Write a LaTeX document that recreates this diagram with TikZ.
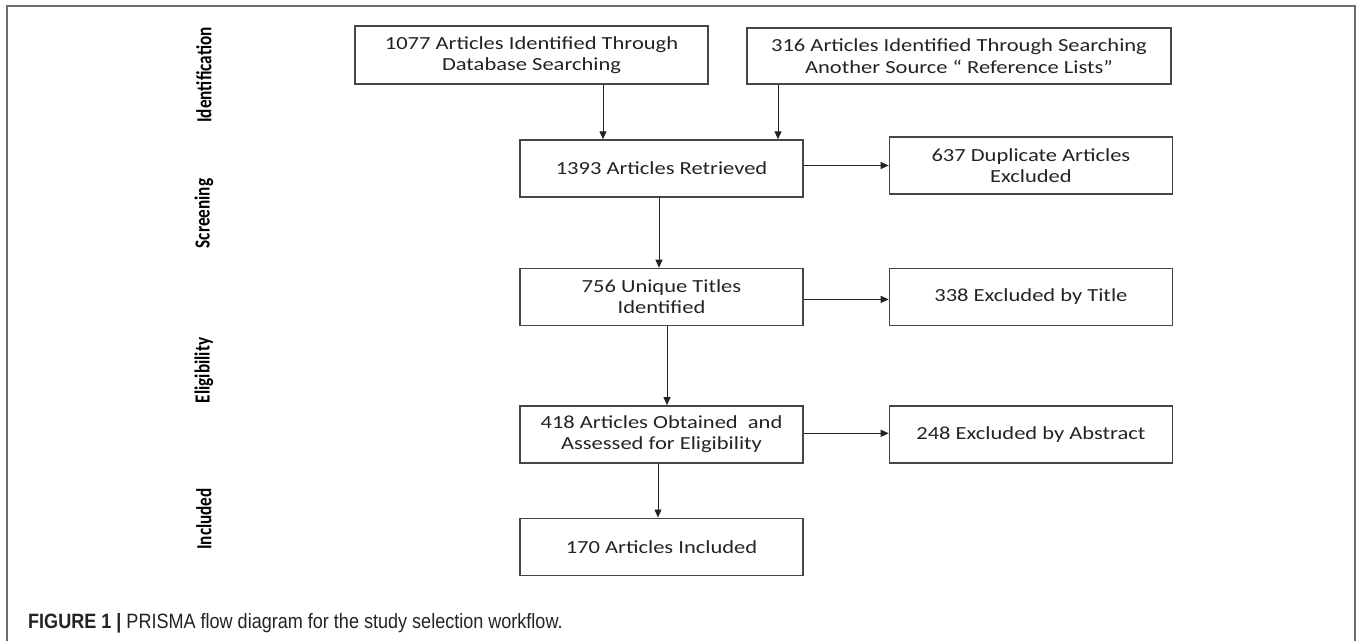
\documentclass[tikz,border=0pt]{standalone}
\usepackage{fontspec}
\setmainfont{Carlito}
\newfontfamily\boxfont[FakeStretch=1.22]{Carlito}
\newfontfamily\capfont[FakeStretch=0.87]{Liberation Sans}
\usetikzlibrary{arrows.meta,positioning,calc}
\definecolor{boxgray}{RGB}{70,70,70}
\definecolor{framegray}{RGB}{110,110,110}
\definecolor{textdark}{RGB}{35,35,35}

\begin{document}
\begin{tikzpicture}[
    box/.style={draw=boxgray, line width=0.8pt, rectangle, minimum width=5.66cm, minimum height=1.14cm, align=center, text=textdark, font={\boxfont\fontsize{10.5}{12.2}\selectfont}},
    stage/.style={xscale=1.25, rotate=90, text=black, font={\bfseries\fontsize{9.8}{11}\selectfont}},
    flow/.style={draw=textdark, line width=0.55pt, -{Triangle[length=1.6mm,width=1.4mm]}}
]
    \useasboundingbox (0,0) rectangle (27.16,-12.82);
    % outer frame
    \draw[framegray, line width=0.6pt] (0.14,-12.82) -- (0.14,-0.12) -- (27.10,-0.12) -- (27.10,-12.82);

    % stage labels
    \node[stage] (lblident) at (4.08,-1.50) {Identification};
    \node[stage] (lblscreen) at (4.08,-4.27) {Screening};
    \node[stage] (lblelig) at (4.08,-7.41) {Eligibility};
    \node[stage] (lblincl) at (4.08,-10.38) {Included};

    % source boxes
    \node[box, minimum width=7.06cm, minimum height=1.16cm] (dbsearch) at (10.63,-1.10) {1077 Articles Identified Through\\Database Searching};
    \node[box, minimum width=8.48cm, minimum height=1.12cm] (refsearch) at (19.18,-1.12) {316 Articles Identified Through Searching\\Another Source “ Reference Lists”};

    % main column
    \node[box] (retrieved) at (13.23,-3.37) {1393 Articles Retrieved};
    \node[box, below=1.40cm of retrieved] (unique) {756 Unique Titles\\Identified};
    \node[box, below=1.58cm of unique] (assessed) {418 Articles Obtained~ and\\Assessed for Eligibility};
    \node[box, below=1.08cm of assessed] (included) {170 Articles Included};

    % exclusion boxes
    \node[box, right=1.70cm of retrieved, yshift=0.06cm] (duplicates) {637 Duplicate Articles\\Excluded};
    \node[box, right=1.70cm of unique] (extitle) {338 Excluded by Title};
    \node[box, right=1.70cm of assessed] (exabstract) {248 Excluded by Abstract};

    % arrows
    \draw[flow] ([xshift=1.43cm]dbsearch.south) -- ([xshift=1.43cm]dbsearch.south |- retrieved.north);
    \draw[flow] ([xshift=-3.62cm]refsearch.south) -- ([xshift=-3.62cm]refsearch.south |- retrieved.north);
    \draw[flow] ([xshift=-0.05cm]retrieved.south) -- ([xshift=-0.05cm]unique.north);
    \draw[flow] ([xshift=0.11cm]unique.south) -- ([xshift=0.11cm]unique.south |- assessed.north);
    \draw[flow] ([xshift=-0.07cm]assessed.south) -- ([xshift=-0.07cm]assessed.south |- included.north);
    \draw[flow] (retrieved.east |- duplicates.west) -- (duplicates.west);
    \draw[flow] ([yshift=-0.05cm]unique.east) -- ([yshift=-0.05cm]extitle.west);
    \draw[flow] ([yshift=0.02cm]assessed.east) -- ([yshift=0.02cm]exabstract.west);

    % caption
    \node[anchor=base west, text=textdark, font={\capfont\fontsize{11.8}{14}\selectfont}] (caption) at (0.44,-12.56) {\textbf{FIGURE 1 |} PRISMA flow diagram for the study selection workflow.};
\end{tikzpicture}
\end{document}
